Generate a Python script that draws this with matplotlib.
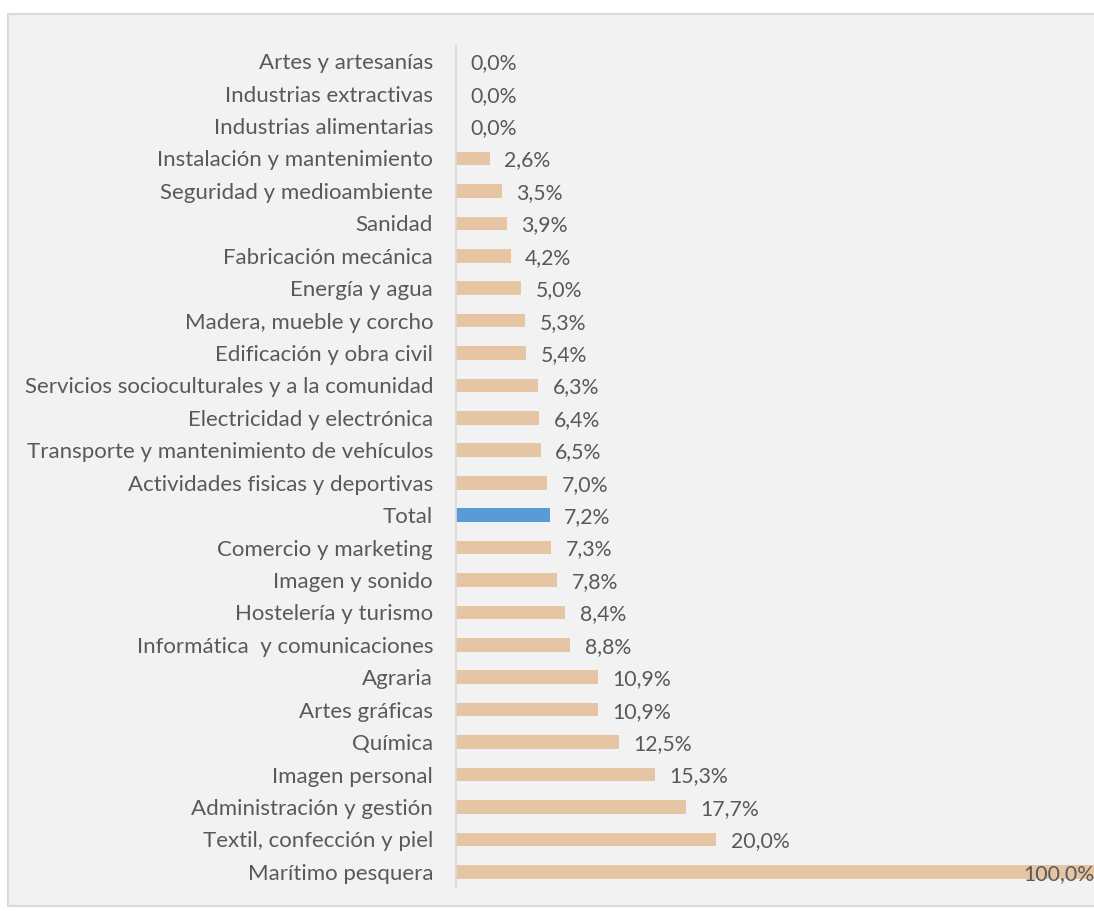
import matplotlib
matplotlib.use("Agg")
import matplotlib.pyplot as plt
from matplotlib.patches import Rectangle

categories = [
    "Artes y artesanías", "Industrias extractivas", "Industrias alimentarias",
    "Instalación y mantenimiento", "Seguridad y medioambiente", "Sanidad",
    "Fabricación mecánica", "Energía y agua", "Madera, mueble y corcho",
    "Edificación y obra civil", "Servicios socioculturales y a la comunidad",
    "Electricidad y electrónica", "Transporte y mantenimiento de vehículos",
    "Actividades fisicas y deportivas", "Total", "Comercio y marketing",
    "Imagen y sonido", "Hostelería y turismo", "Informática  y comunicaciones",
    "Agraria", "Artes gráficas", "Química", "Imagen personal",
    "Administración y gestión", "Textil, confección y piel", "Marítimo pesquera",
]
values = [0.0, 0.0, 0.0, 2.6, 3.5, 3.9, 4.2, 5.0, 5.3, 5.4, 6.3, 6.4, 6.5,
          7.0, 7.2, 7.3, 7.8, 8.4, 8.8, 10.9, 10.9, 12.5, 15.3, 17.7, 20.0, 100.0]

plt.rcParams['font.family'] = ['Lato', 'DejaVu Sans']
text_color = "#595959"
bar_color = "#e6c5a4"
total_color = "#5b9bd5"
bg = "#f2f2f2"

W, H = 1094, 911
fig = plt.figure(figsize=(W / 100, H / 100), dpi=100)
fig.patch.set_facecolor("white")
panel = Rectangle((8 / W, 1 - 906 / H), 1.2, (906 - 14) / H,
                  transform=fig.transFigure, facecolor=bg,
                  edgecolor="#d9d9d9", linewidth=1.5, zorder=-10)
fig.patches.append(panel)

left = 456 / W
top = 1 - 45 / H
bottom = 1 - 888 / H
ax = fig.add_axes([left, bottom, 1 - left, top - bottom])
ax.set_facecolor("none")
ax.set_zorder(5)

n = len(categories)
y = list(range(n))
colors = [total_color if c == "Total" else bar_color for c in categories]
ax.barh(y, values, height=0.42, color=colors, zorder=2)

xmax = (W - 456) / 13.0
ax.set_xlim(0, xmax)
ax.set_ylim(n - 0.5, -0.5)
ax.set_yticks(y)
ax.set_yticklabels(categories, fontsize=16, color=text_color, va="center_baseline")
ax.tick_params(axis="y", length=0, pad=16.5)
ax.set_xticks([])
for s in ["top", "right", "bottom"]:
    ax.spines[s].set_visible(False)
ax.spines["left"].set_color("#d9d9d9")
ax.spines["left"].set_linewidth(1.2)

for yi, v in zip(y, values):
    lab = f"{v:.1f}%".replace(".", ",")
    if v > xmax:
        ax.text(1.0, yi, lab, transform=ax.get_yaxis_transform(), ha="right",
                va="center_baseline", fontsize=15.3, color=text_color, zorder=3)
    else:
        ax.annotate(lab, (v, yi), xytext=(10.5, 0), textcoords="offset points",
                    ha="left", va="center_baseline", fontsize=15.3, color=text_color, zorder=3)

fig.savefig("out.png", dpi=100, facecolor=fig.get_facecolor())
